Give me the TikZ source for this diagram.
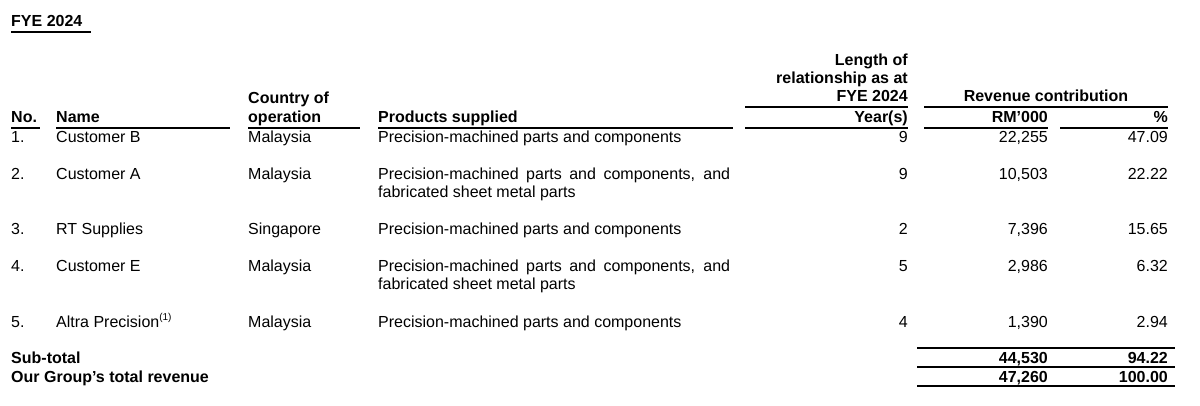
\documentclass[tikz,border=0pt]{standalone}
\usepackage{fontspec}
\setmainfont{Liberation Sans}
\begin{document}
\begin{tikzpicture}[x=1pt,y=-1pt,
  t/.style={anchor=base west,inner sep=0pt,font=\fontsize{16}{18}\selectfont},
  r/.style={anchor=base east,inner sep=0pt,font=\fontsize{16}{18}\selectfont},
  b/.style={font=\fontsize{16}{18}\selectfont\bfseries},
  ln/.style={line width=1.1pt}]
\useasboundingbox (0,0) rectangle (1200,406);
\node[t,b] (title) at (11,27) {FYE 2024};
\draw[ln] (11,32) -- (91,32);
% headers
\node[r,b] (len) at (908,66) {Length of};
\node[r,b] (len2) at (908,84) {relationship as at};
\node[r,b] (len3) at (908,102) {FYE 2024};
\node[t,b] (c1) at (248,104) {Country of};
\node[t,b] (c2) at (248,123) {operation};
\node[anchor=base,inner sep=0pt,font=\fontsize{16}{18}\selectfont\bfseries] (rev) at (1046,102) {Revenue contribution};
\node[t,b] (hno) at (11,123) {No.};
\node[t,b] (hname) at (56,123) {Name};
\node[t,b] (hprod) at (378,123) {Products supplied};
\node[r,b] (hyr) at (908,123) {Year(s)};
\node[r,b] (hrm) at (1048,123) {RM'000};
\node[r,b] (hpc) at (1168,123) {\%};
\draw[ln] (745,107) -- (908,107) (924,107) -- (1168,107);
\draw[ln] (11,128) -- (40,128) (56,128) -- (230,128) (248,128) -- (360,128)
  (378,128) -- (733,128) (745,128) -- (908,128) (924,128) -- (1048,128) (1060,128) -- (1168,128);
% rows
\foreach \y/\n/\nm/\c/\yr/\rm/\pc [count=\i] in {
 143/1./Customer B/Malaysia/9/{22,255}/47.09,
 180/2./Customer A/Malaysia/9/{10,503}/22.22,
 235/3./RT Supplies/Singapore/2/{7,396}/15.65,
 272/4./Customer E/Malaysia/5/{2,986}/6.32,
 327/5./{Altra Precision\textsuperscript{\fontsize{10}{10}\selectfont(1)}}/Malaysia/4/{1,390}/2.94}{
 \node[t] (no\i) at (11,\y) {\n};
 \node[t] (nm\i) at (56,\y) {\nm};
 \node[t] (co\i) at (248,\y) {\c};
 \node[r] (yr\i) at (908,\y) {\yr};
 \node[r] (rm\i) at (1048,\y) {\rm};
 \node[r] (pc\i) at (1168,\y) {\pc};
}
\node[t] (p1) at (378,143) {Precision-machined parts and components};
\node[t] (p2) at (378,180) {\makebox[352pt][s]{Precision-machined parts and components, and}};
\node[t] (p2b) at (378,198) {fabricated sheet metal parts};
\node[t] (p3) at (378,235) {Precision-machined parts and components};
\node[t] (p4) at (378,272) {\makebox[352pt][s]{Precision-machined parts and components, and}};
\node[t] (p4b) at (378,290) {fabricated sheet metal parts};
\node[t] (p5) at (378,327) {Precision-machined parts and components};
% totals
\node[t,b] (st) at (11,363) {Sub-total};
\node[t,b] (tot) at (11,382) {Our Group's total revenue};
\node[r,b] (strm) at (1048,363) {44,530};
\node[r,b] (stpc) at (1168,363) {94.22};
\node[r,b] (ttrm) at (1048,382) {47,260};
\node[r,b] (ttpc) at (1168,382) {100.00};
\draw[ln] (917,348) -- (1175,348) (917,367) -- (1175,367) (917,386) -- (1175,386);
\end{tikzpicture}
\end{document}
